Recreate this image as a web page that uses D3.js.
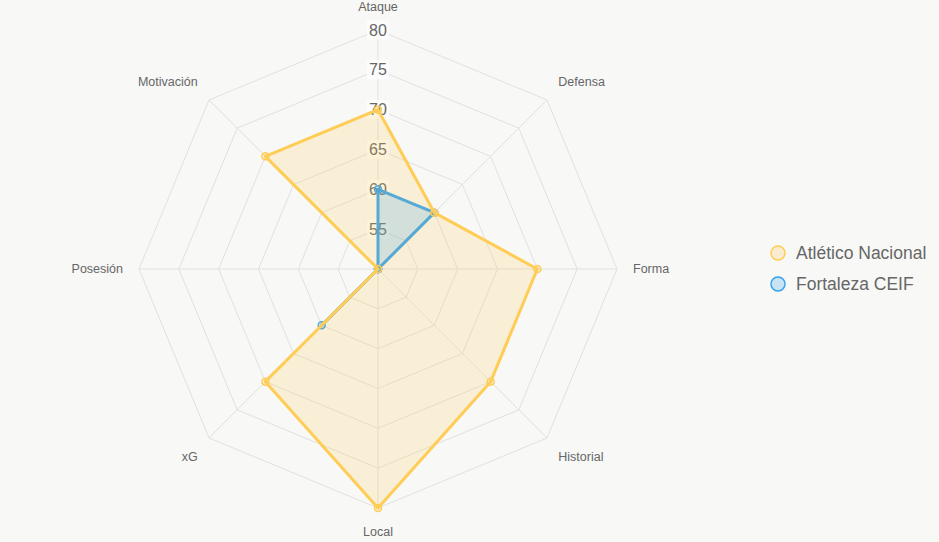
<!DOCTYPE html>
<html>
<head>
<meta charset="utf-8">
<script src="https://cdn.jsdelivr.net/npm/d3@7"></script>
<style>
  html, body { margin: 0; padding: 0; background: #f8f8f7; }
  svg { display: block; font-family: "Liberation Sans", Arial, Helvetica, sans-serif; }
</style>
</head>
<body>
<svg id="chart" width="939" height="542"></svg>
<script>
const axes = ["Ataque", "Defensa", "Forma", "Historial", "Local", "xG", "Posesión", "Motivación"];
const nacional = [70, 60, 70, 70, 80, 70, 50, 70];
const fortaleza = [60, 60, 50, 50, 50, 60, 50, 50];
const tickValues = [55, 60, 65, 70, 75, 80];
const seriesNames = ["Atlético Nacional", "Fortaleza CEIF"];

const series = [
  { name: seriesNames[0], values: nacional, stroke: "#ffcd56", fill: "rgba(255,205,86,0.2)", point: "rgba(255,205,86,0.2)" },
  { name: seriesNames[1], values: fortaleza, stroke: "#55a9d2", fill: "rgba(54,162,235,0.2)", point: "rgba(54,162,235,0.2)" }
];

const svg = d3.select("#chart");
const cx = 378, cy = 269, R = 239;
const r = d3.scaleLinear().domain([50, 80]).range([0, R]);
const angle = d3.scaleLinear().domain([0, axes.length]).range([-Math.PI / 2, 1.5 * Math.PI]);
const px = (i, v) => cx + r(v) * Math.cos(angle(i));
const py = (i, v) => cy + r(v) * Math.sin(angle(i));

const g = svg.append("g");

// grid polygons
tickValues.forEach(t => {
  const pts = axes.map((a, i) => [px(i, t), py(i, t)]);
  g.append("polygon")
    .attr("points", pts.map(p => p.join(",")).join(" "))
    .attr("fill", "none")
    .attr("stroke", "#e1e1e1")
    .attr("stroke-width", 1);
});
// angle lines
axes.forEach((a, i) => {
  g.append("line")
    .attr("x1", cx).attr("y1", cy)
    .attr("x2", px(i, 80)).attr("y2", py(i, 80))
    .attr("stroke", "#e1e1e1").attr("stroke-width", 1);
});

// tick labels with backdrop
tickValues.forEach(t => {
  const y = cy - r(t);
  const txt = g.append("text")
    .attr("x", cx).attr("y", y)
    .attr("text-anchor", "middle").attr("dominant-baseline", "central")
    .attr("font-size", 16).attr("fill", "#666")
    .text(t);
  const bb = txt.node().getBBox();
  g.insert("rect", () => txt.node())
    .attr("x", bb.x - 2).attr("y", bb.y - 1)
    .attr("width", bb.width + 4).attr("height", bb.height + 2)
    .attr("fill", "rgba(255,255,255,0.75)");
});

// point labels
axes.forEach((a, i) => {
  const ang = angle(i);
  const lr = R + 16;
  const x = cx + lr * Math.cos(ang);
  const y = cy + lr * Math.sin(ang);
  const c = Math.cos(ang), s = Math.sin(ang);
  let anchor = Math.abs(c) < 0.01 ? "middle" : (c > 0 ? "start" : "end");
  let yy = y;
  if (Math.abs(c) < 0.01) yy = y + (s < 0 ? -7 : 8);
  else if (s < -0.01) yy = y - 7;
  else if (s > 0.01) yy = y + 8;
  g.append("text")
    .attr("x", x).attr("y", yy)
    .attr("text-anchor", anchor).attr("dominant-baseline", "central")
    .attr("font-size", 12.5).attr("fill", "#666")
    .text(a);
});

// datasets: fills first, then lines+points with the first dataset on top
const line = d3.lineRadial()
  .angle((d, i) => angle(i) + Math.PI / 2)
  .radius(d => r(d))
  .curve(d3.curveLinearClosed);

const dg = svg.append("g").attr("transform", `translate(${cx},${cy})`);
series.forEach(sr => {
  dg.append("path")
    .attr("d", line(sr.values))
    .attr("fill", sr.fill)
    .attr("stroke", "none");
});
series.slice().reverse().forEach(sr => {
  dg.append("path")
    .attr("d", line(sr.values))
    .attr("fill", "none")
    .attr("stroke", sr.stroke)
    .attr("stroke-width", 3)
    .attr("stroke-linejoin", "round");
  sr.values.forEach((v, i) => {
    dg.append("circle")
      .attr("cx", r(v) * Math.cos(angle(i)))
      .attr("cy", r(v) * Math.sin(angle(i)))
      .attr("r", 3.5)
      .attr("fill", sr.point)
      .attr("stroke", sr.stroke)
      .attr("stroke-width", 1.5);
  });
});

// legend
const lg = svg.append("g");
series.forEach((sr, i) => {
  const y = 253 + i * 31;
  lg.append("circle")
    .attr("cx", 778).attr("cy", y).attr("r", 7)
    .attr("fill", i === 0 ? "rgba(255,205,86,0.25)" : "rgba(54,162,235,0.25)")
    .attr("stroke", i === 0 ? "#ffcd56" : "#36a2eb")
    .attr("stroke-width", 1.5);
  lg.append("text")
    .attr("x", 796).attr("y", y)
    .attr("dominant-baseline", "central")
    .attr("font-size", 17.5).attr("fill", "#666")
    .text(sr.name);
});
</script>
</body>
</html>
